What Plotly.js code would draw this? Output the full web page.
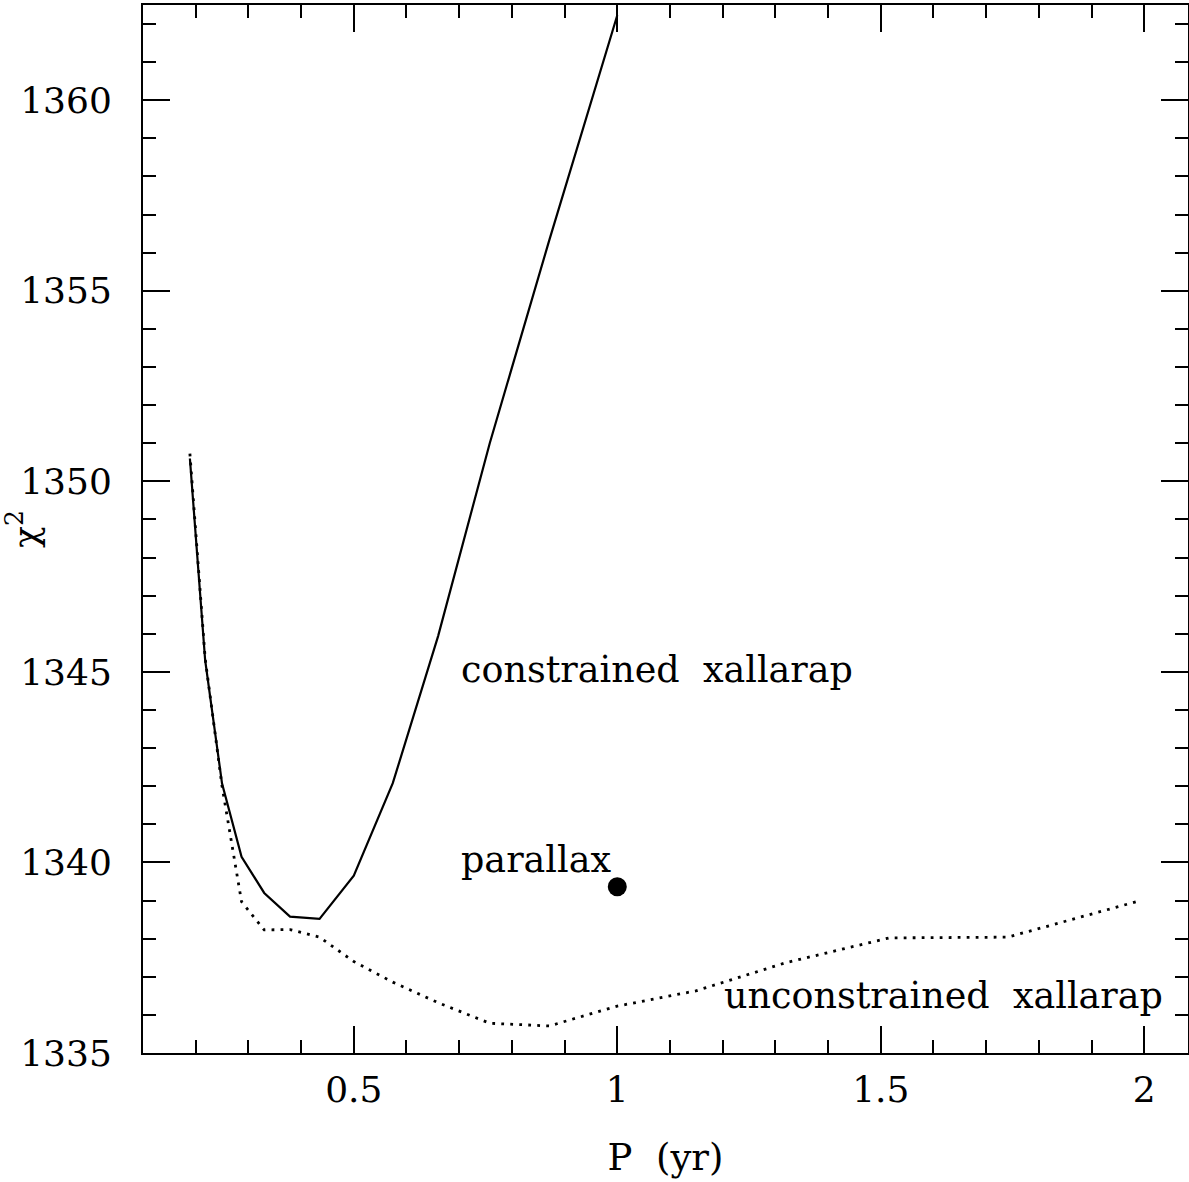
<!DOCTYPE html>
<html>
<head>
<meta charset="utf-8">
<script src="https://cdn.plot.ly/plotly-3.0.1.min.js"></script>
<style>html,body{margin:0;padding:0;background:#fff;}#plot{width:1189px;height:1182px;}</style>
</head>
<body>
<div id="plot"></div>
<script>
// Constrained xallarap (solid)
const periodConstrained = [0.189, 0.218, 0.25, 0.287, 0.33, 0.379, 0.435, 0.5, 0.574, 0.66, 0.758, 0.871, 1.0];
const chi2Constrained   = [1350.6, 1345.3, 1342.07, 1340.15, 1339.2, 1338.58, 1338.52, 1339.65, 1342.08, 1345.94, 1351.0, 1356.33, 1362.23];

// Unconstrained xallarap (dotted)
const periodUnconstrained = [0.189, 0.218, 0.25, 0.287, 0.33, 0.379, 0.435, 0.5, 0.574, 0.66, 0.758, 0.871, 1.0, 1.149, 1.32, 1.516, 1.741, 1.99];
const chi2Unconstrained   = [1350.73, 1345.35, 1342.0, 1338.97, 1338.23, 1338.24, 1338.04, 1337.40, 1336.86, 1336.32, 1335.78, 1335.71, 1336.23, 1336.63, 1337.37, 1338.02, 1338.04, 1338.99];

// Parallax fit
const periodParallax = [1.0];
const chi2Parallax   = [1339.36];

// Ticks
const xTickVals = [0.5, 1, 1.5, 2];
const xTickText = ['0.5', '1', '1.5', '2'];
const yTickVals = [1335, 1340, 1345, 1350, 1355, 1360];
const yTickText = ['1335', '1340', '1345', '1350', '1355', '1360'];

// Labels
const labelTexts = ['constrained\u00a0 xallarap', 'parallax', 'unconstrained\u00a0 xallarap'];
const labelX = [0.700, 0.700, 1.198];
const labelY = [1345.06, 1340.08, 1336.5];

const FONT = 'DejaVu Serif, serif';

const traces = [
  {x: periodConstrained, y: chi2Constrained, mode: 'lines', line: {color: '#000', width: 2.2}, hoverinfo: 'skip'},
  {x: periodUnconstrained, y: chi2Unconstrained, mode: 'lines', line: {color: '#000', width: 2.8, dash: '2.8px,6.2px'}, hoverinfo: 'skip'},
  {x: periodParallax, y: chi2Parallax, mode: 'markers', marker: {color: '#000', size: 19}, hoverinfo: 'skip'}
];

const axisCommon = {
  showgrid: false, zeroline: false, showline: true, linecolor: '#000', linewidth: 2,
  mirror: 'ticks', ticks: 'inside', ticklen: 27, tickwidth: 2, tickcolor: '#000',
  tickfont: {family: FONT, size: 36, color: '#000'}, tickmode: 'array'
};

const layout = {
  width: 1189, height: 1182,
  margin: {l: 143, r: 1, t: 5, b: 129},
  paper_bgcolor: '#fff', plot_bgcolor: '#fff',
  showlegend: false,
  font: {family: FONT, color: '#000'},
  xaxis: Object.assign({}, axisCommon, {
    range: [0.1, 2.083], tickvals: xTickVals, ticktext: xTickText,
    ticklabelstandoff: 4,
    minor: {dtick: 0.1, tick0: 0, ticks: 'inside', ticklen: 13, tickwidth: 2, tickcolor: '#000'},
    title: {text: 'P\u00a0 (yr)', font: {family: FONT, size: 37, color: '#000'}, standoff: 35}
  }),
  yaxis: Object.assign({}, axisCommon, {
    range: [1335, 1362.5], tickvals: yTickVals, ticktext: yTickText,
    ticklabelstandoff: 22,
    minor: {dtick: 1, tick0: 1335, ticks: 'inside', ticklen: 13, tickwidth: 2, tickcolor: '#000'},
    title: {text: 'χ<sup>2</sup>', font: {family: FONT, size: 36, color: '#000'}, standoff: 2}
  }),
  annotations: labelTexts.map((t, i) => ({
    x: labelX[i], y: labelY[i], xref: 'x', yref: 'y', text: t, showarrow: false,
    xanchor: 'left', yanchor: 'middle', font: {family: FONT, size: 36.5, color: '#000'}
  }))
};

Plotly.newPlot('plot', traces, layout, {staticPlot: true, displayModeBar: false});
</script>
</body>
</html>
